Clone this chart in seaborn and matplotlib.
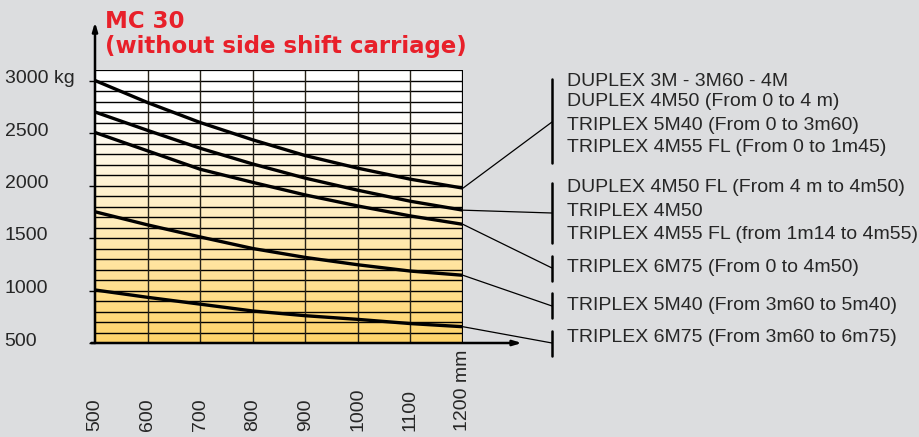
import numpy as np
import pandas as pd
import matplotlib
matplotlib.use("Agg")
import matplotlib.pyplot as plt
import matplotlib.colors
import matplotlib.transforms as mtrans
import seaborn as sns

# lifting width (mm) vs capacity (kg)
widths = [500, 600, 700, 800, 900, 1000, 1100, 1200]
curve_a = [3000, 2790, 2600, 2435, 2285, 2165, 2060, 1975]
curve_b = [2700, 2525, 2355, 2205, 2070, 1955, 1850, 1765]
curve_c = [2505, 2330, 2155, 2030, 1910, 1805, 1710, 1630]
curve_d = [1750, 1625, 1510, 1400, 1315, 1245, 1185, 1145]
curve_e = [1005, 935, 870, 805, 760, 725, 685, 655]

y_ticks = [500, 1000, 1500, 2000, 2500, 3000]
y_labels = ["500", "1000", "1500", "2000", "2500", "3000 kg"]
x_labels = ["500", "600", "700", "800", "900", "1000", "1100", "1200 mm"]

title_1 = "MC 30"
title_2 = "(without side shift carriage)"

legend_groups = [
    ["DUPLEX 3M - 3M60 - 4M", "DUPLEX 4M50 (From 0 to 4 m)",
     "TRIPLEX 5M40 (From 0 to 3m60)", "TRIPLEX 4M55 FL (From 0 to 1m45)"],
    ["DUPLEX 4M50 FL (From 4 m to 4m50)", "TRIPLEX 4M50",
     "TRIPLEX 4M55 FL (from 1m14 to 4m55)"],
    ["TRIPLEX 6M75 (From 0 to 4m50)"],
    ["TRIPLEX 5M40 (From 3m60 to 5m40)"],
    ["TRIPLEX 6M75 (From 3m60 to 6m75)"],
]

curves = [curve_a, curve_b, curve_c, curve_d, curve_e]
df = pd.DataFrame({
    "width": widths * len(curves),
    "load": sum(curves, []),
    "curve": sum([[i] * len(widths) for i in range(len(curves))], []),
})

sns.set_style("white")
plt.rcParams["font.family"] = ["Liberation Sans", "DejaVu Sans"]

BG = "#dcdddf"
W, H = 920, 437
fig = plt.figure(figsize=(9.2, 4.37), dpi=100, facecolor=BG)
ax = fig.add_axes([95 / W, 1 - 343 / H, 368 / W, 273 / H])
ax.set_facecolor(BG)

x0, x1, y0, y1 = 500, 1200, 500, 3100
ax.set_xlim(x0, x1)
ax.set_ylim(y0, y1)

# white -> yellow gradient behind the grid
cmap = matplotlib.colors.LinearSegmentedColormap.from_list(
    "grad", [(0.0, "#ffd46a"), (0.45, "#ffedbd"), (0.85, "#ffffff"), (1.0, "#ffffff")])
grad = np.linspace(0, 1, 256).reshape(-1, 1)
ax.imshow(grad, extent=[x0, x1, y0, y1], origin="lower", aspect="auto",
          cmap=cmap, zorder=0)

for yv in range(y0 + 100, y1, 100):
    ax.axhline(yv, color="black", lw=1.0, zorder=1)
for xv in widths[1:-1]:
    ax.axvline(xv, color="#262218", lw=1.0, zorder=1)
ax.plot([x0, x1, x1], [y1, y1, y0], color="black", lw=1.6, zorder=2)

sns.lineplot(data=df, x="width", y="load", hue="curve",
             palette=["black"] * len(curves), legend=False, lw=2.4, ax=ax, zorder=3)

for s in ax.spines.values():
    s.set_visible(False)
ax.set_xlabel("")
ax.set_ylabel("")
ax.set_xticks([])
ax.set_yticks(y_ticks)
ax.set_yticklabels(y_labels, fontsize=14, ha="left")
ax.tick_params(axis="y", length=4, width=1, color="black", pad=61, direction="out", left=True)
shift = mtrans.ScaledTranslation(0, 4 / 100, fig.dpi_scale_trans)
for lab in ax.get_yticklabels():
    lab.set_transform(lab.get_transform() + shift)

# axis arrows
ax.annotate("", xy=(0, 1.175), xytext=(0, 0), xycoords="axes fraction",
            arrowprops=dict(arrowstyle="-|>,head_length=0.5,head_width=0.15", color="black", lw=1.8,
                            shrinkA=0, shrinkB=0))
ax.annotate("", xy=(1.16, 0), xytext=(-0.01, 0), xycoords="axes fraction",
            arrowprops=dict(arrowstyle="-|>,head_length=0.5,head_width=0.15", color="black", lw=1.8,
                            shrinkA=0, shrinkB=0))

# rotated x labels, bottom aligned
blend = mtrans.blended_transform_factory(ax.transData, fig.transFigure)
for xv, lab in zip(widths, x_labels):
    ax.text(xv, 1 - 431 / H, lab, rotation=90, ha="center", va="bottom",
            fontsize=14, transform=blend, clip_on=False)

red = "#e8202a"
fig.text(105 / W, 1 - 21 / H, title_1, color=red, fontsize=16.5, fontweight="bold",
         va="center", ha="left", family=["DejaVu Sans"])
fig.text(105 / W, 1 - 46 / H, title_2, color=red, fontsize=16.5, fontweight="bold",
         va="center", ha="left", family=["DejaVu Sans"])

# legend: brackets, text and leader lines (pixel positions)
bracket_x = 552
brackets = [(79, 163, 122), (183, 243, 213), (256, 281, 268), (293, 318, 306), (331, 356, 343)]
text_y = [[82, 102, 125, 148], [188, 211, 234], [267], [305], [337]]
for gi, (top, bot, mid) in enumerate(brackets):
    fig.add_artist(plt.Line2D([bracket_x / W] * 2, [1 - top / H, 1 - bot / H],
                              color="black", lw=1.8, transform=fig.transFigure))
    for yy, line in zip(text_y[gi], legend_groups[gi]):
        fig.text(567 / W, 1 - yy / H, line, fontsize=14, va="center", ha="left",
                 family=["Liberation Sans", "DejaVu Sans"])
    ax.annotate("", xy=(bracket_x, H - mid), xycoords="figure pixels",
                xytext=(x1, curves[gi][-1]), textcoords="data",
                arrowprops=dict(arrowstyle="-", color="black", lw=0.9, shrinkA=0, shrinkB=0))

fig.savefig("out.png", dpi=100, facecolor=BG)
